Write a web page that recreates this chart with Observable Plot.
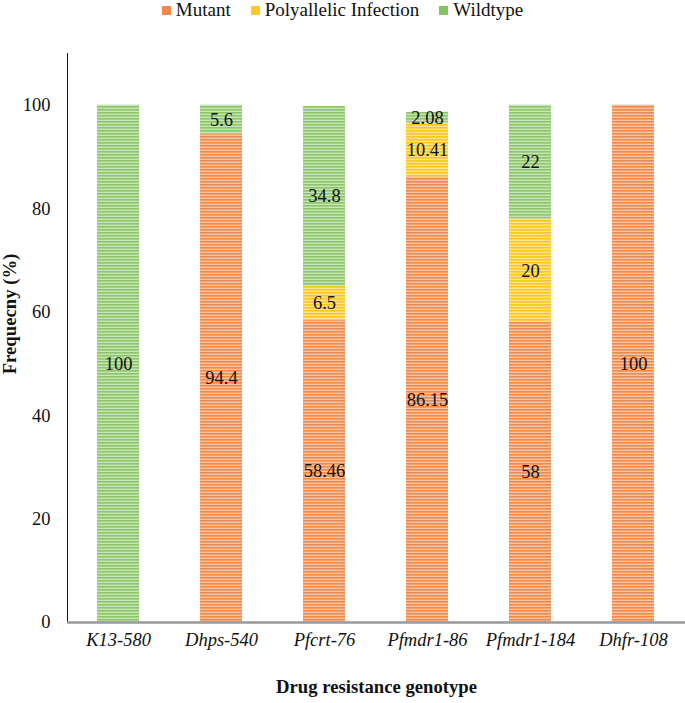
<!DOCTYPE html>
<html>
<head>
<meta charset="utf-8">
<script src="https://cdn.jsdelivr.net/npm/d3@7"></script>
<script src="https://cdn.jsdelivr.net/npm/@observablehq/plot@0.6"></script>
<style>
  body { margin: 0; background: #fff; font-family: "Liberation Serif", "Times New Roman", serif; }
  #legend { height: 25px; display: flex; justify-content: center; align-items: flex-start; gap: 20px; font-size: 19px; line-height: 19px; color: #111; padding-left: 0px; box-sizing: border-box; }
  #legend span.sw { display: inline-block; width: 9px; height: 9px; margin-right: 5px; vertical-align: 1px; }
  svg text { font-family: "Liberation Serif", "Times New Roman", serif; }
</style>
</head>
<body>
<div id="legend"></div>
<div id="chart"></div>
<script>
const genotypes = ["K13-580", "Dhps-540", "Pfcrt-76", "Pfmdr1-86", "Pfmdr1-184", "Dhfr-108"];
const types = ["Mutant", "Polyallelic Infection", "Wildtype"];
const mutant = [null, 94.4, 58.46, 86.15, 58, 100];
const polyallelic = [null, null, 6.5, 10.41, 20, null];
const wildtype = [100, 5.6, 34.8, 2.08, 22, null];
const labels = {
  "Mutant": ["", "94.4", "58.46", "86.15", "58", "100"],
  "Polyallelic Infection": ["", "", "6.5", "10.41", "20", ""],
  "Wildtype": ["100", "5.6", "34.8", "2.08", "22", ""]
};
const yTicks = [0, 20, 40, 60, 80, 100];

const series = [mutant, polyallelic, wildtype];
const data = [];
types.forEach((t, i) => {
  genotypes.forEach((g, j) => {
    const v = series[i][j];
    if (v != null) data.push({genotype: g, type: t, value: v, label: labels[t][j]});
  });
});

const swatch = {"Mutant": "#f08a4b", "Polyallelic Infection": "#ffc728", "Wildtype": "#86c163"};
const legend = document.getElementById("legend");
types.forEach(t => {
  const d = document.createElement("div");
  d.innerHTML = `<span class="sw" style="background:${swatch[t]}"></span>${t}`;
  legend.appendChild(d);
});

const serif = '"Liberation Serif", "Times New Roman", serif';
const chart = Plot.plot({
  width: 685,
  height: 678,
  marginTop: 28,
  marginBottom: 81,
  marginLeft: 67,
  marginRight: 0,
  style: {fontFamily: serif, fontSize: "18.5px", color: "#111", background: "#fff"},
  x: {domain: genotypes, paddingInner: 0.59, paddingOuter: 0.295, label: null, tickSize: 0, tickPadding: 10},
  y: {domain: [0, 110], ticks: yTicks, label: null, tickSize: 0, tickPadding: 17, line: true},
  color: {domain: types, range: ["url(#pat-m)", "url(#pat-p)", "url(#pat-w)"]},
  marks: [
    Plot.barY(data, {x: "genotype", y: "value", fill: "type", order: types}),
    Plot.text(data, Plot.stackY({x: "genotype", y: "value", z: "type", order: types, text: "label", fontSize: 18.5, fill: "#111"})),
    Plot.ruleY([0], {stroke: "#999", strokeWidth: 2.5}),
    Plot.text(["Drug resistance genotype"], {frameAnchor: "bottom", dy: 70, fontWeight: "bold", fontSize: 18.7, fill: "#111"}),
    Plot.text(["Frequecny (%)"], {frameAnchor: "left", textAnchor: "middle", dx: -57, dy: -24, rotate: -90, fontWeight: "bold", fontSize: 18.7, fill: "#111"})
  ]
});

// Striped fills
const ns = "http://www.w3.org/2000/svg";
const defs = document.createElementNS(ns, "defs");
const pats = [["pat-m", "#f9c3a1", "#f08a4b"], ["pat-p", "#ffe48e", "#ffc51f"], ["pat-w", "#c9e5b6", "#8cc56a"]];
for (const [id, light, dark] of pats) {
  const p = document.createElementNS(ns, "pattern");
  p.setAttribute("id", id);
  p.setAttribute("patternUnits", "userSpaceOnUse");
  p.setAttribute("width", "6");
  p.setAttribute("height", "3");
  const r1 = document.createElementNS(ns, "rect");
  r1.setAttribute("width", "6"); r1.setAttribute("height", "3"); r1.setAttribute("fill", light);
  const r2 = document.createElementNS(ns, "rect");
  r2.setAttribute("width", "6"); r2.setAttribute("height", "1.6"); r2.setAttribute("fill", dark);
  p.appendChild(r1); p.appendChild(r2);
  defs.appendChild(p);
}
chart.insertBefore(defs, chart.firstChild);
chart.querySelectorAll('[aria-label="x-axis tick label"]').forEach(g => g.setAttribute("font-style", "italic"));
chart.querySelectorAll('[aria-label="y-axis line"]').forEach(g => g.setAttribute("stroke-width", "1.5"));
document.getElementById("chart").appendChild(chart);
</script>
</body>
</html>
